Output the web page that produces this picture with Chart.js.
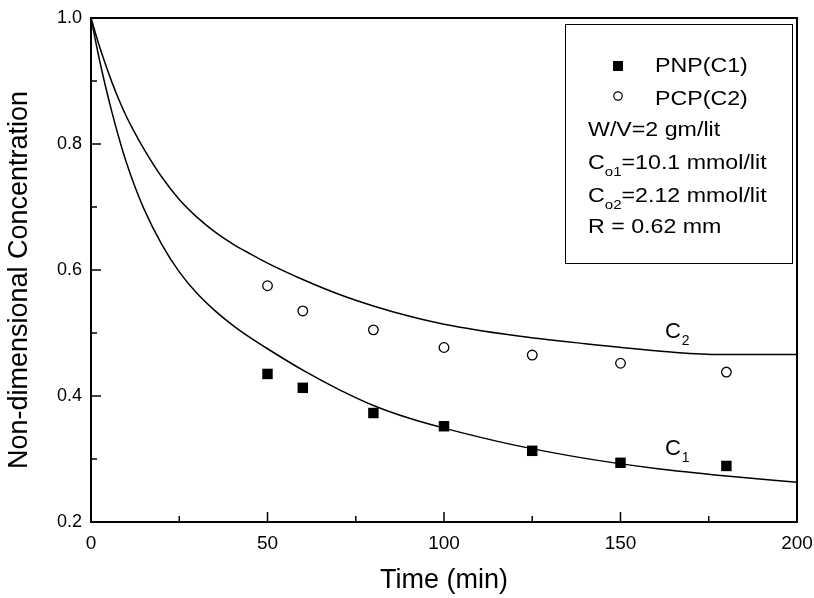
<!DOCTYPE html>
<html>
<head>
<meta charset="utf-8">
<script src="https://cdn.jsdelivr.net/npm/chart.js@4.4.0/dist/chart.umd.min.js"></script>
<style>
  html, body { margin: 0; padding: 0; background: #fff; }
</style>
</head>
<body>
<canvas id="chart" width="814" height="598"></canvas>
<script>
// measured points
const sampleTimes = [50, 60, 80, 100, 125, 150, 180];
const pnpValues = [0.435, 0.413, 0.373, 0.352, 0.313, 0.294, 0.289];
const pcpValues = [0.575, 0.535, 0.505, 0.477, 0.465, 0.452, 0.438];

// model curves
const c1Times = [0, 2, 4, 6, 8, 10, 12, 15, 20, 25, 30, 35, 40, 45, 50, 60, 70, 80, 90, 100, 120, 140, 160, 180, 200];
const c1Values = [1.0, 0.944, 0.894, 0.849, 0.808, 0.771, 0.739, 0.697, 0.641, 0.597, 0.563, 0.536, 0.513, 0.493, 0.475, 0.441, 0.411, 0.385, 0.365, 0.349, 0.322, 0.301, 0.285, 0.273, 0.263];
const c2Times = [0, 2, 4, 6, 8, 10, 12, 15, 20, 25, 30, 35, 40, 45, 50, 60, 70, 80, 90, 100, 120, 140, 160, 177, 200];
const c2Values = [1.0, 0.962, 0.928, 0.897, 0.869, 0.844, 0.822, 0.792, 0.748, 0.712, 0.684, 0.661, 0.642, 0.626, 0.611, 0.585, 0.562, 0.543, 0.527, 0.514, 0.496, 0.483, 0.472, 0.466, 0.466];

const xMinor = [25, 75, 125, 175];
const yMinor = [0.3, 0.5, 0.7, 0.9];

const yTitle = 'Non-dimensional Concentration';
const legendNotes = [
    [['W/V=2 gm/lit']],
    [['C'], ['o1', 'sub'], ['=10.1 mmol/lit']],
    [['C'], ['o2', 'sub'], ['=2.12 mmol/lit']],
    [['R = 0.62 mm']]
];

const FONT = "'Liberation Sans', Arial, sans-serif";

function pairs(xs, ys) {
    return xs.map((x, i) => ({ x: x, y: ys[i] }));
}

function drawStretched(ctx, text, x, y, sx) {
    ctx.save();
    ctx.translate(x, y);
    ctx.scale(sx, 1);
    ctx.fillText(text, 0, 0);
    ctx.restore();
    return ctx.measureText(text).width * sx;
}

const frame = {
    id: 'frame',
    afterDatasetsDraw(chart) {
        const { ctx, chartArea: a, scales: { x, y } } = chart;
        ctx.save();
        ctx.strokeStyle = '#000';
        ctx.fillStyle = '#000';

        // plot box
        ctx.lineWidth = 2;
        ctx.strokeRect(a.left, a.top, a.right - a.left, a.bottom - a.top);

        // inward ticks
        ctx.lineWidth = 1.5;
        ctx.beginPath();
        x.ticks.forEach(t => {
            const px = x.getPixelForValue(t.value);
            ctx.moveTo(px, a.bottom); ctx.lineTo(px, a.bottom - 10);
        });
        xMinor.forEach(v => {
            const px = x.getPixelForValue(v);
            ctx.moveTo(px, a.bottom); ctx.lineTo(px, a.bottom - 6);
        });
        y.ticks.forEach(t => {
            const py = y.getPixelForValue(t.value);
            ctx.moveTo(a.left, py); ctx.lineTo(a.left + 10, py);
        });
        yMinor.forEach(v => {
            const py = y.getPixelForValue(v);
            ctx.moveTo(a.left, py); ctx.lineTo(a.left + 6, py);
        });
        ctx.stroke();

        // y axis title
        ctx.save();
        ctx.translate(20, 280);
        ctx.rotate(-Math.PI / 2);
        ctx.textAlign = 'center';
        ctx.textBaseline = 'middle';
        ctx.font = '27px ' + FONT;
        ctx.fillText(yTitle, 0, 0);
        ctx.restore();

        // curve labels
        ctx.textBaseline = 'alphabetic';
        ctx.textAlign = 'left';
        [['1', 0.306], ['2', 0.492]].forEach(([s, v]) => {
            const px = x.getPixelForValue(162.6);
            const py = y.getPixelForValue(v);
            ctx.font = '22px ' + FONT;
            ctx.fillText('C', px, py);
            const w = ctx.measureText('C').width;
            ctx.font = '14px ' + FONT;
            ctx.fillText(s, px + w + 1, py + 7);
        });

        // legend box
        const bx = a.right - 232, by = a.top + 6;
        ctx.lineWidth = 1;
        ctx.strokeRect(bx + 0.5, by + 0.5, 227, 239);

        // series entries
        ctx.fillRect(bx + 48, by + 37, 10, 10);
        ctx.lineWidth = 1.2;
        ctx.beginPath();
        ctx.arc(bx + 53, by + 72, 4.2, 0, Math.PI * 2);
        ctx.stroke();

        const sx = 1.16;
        ctx.font = '20px ' + FONT;
        drawStretched(ctx, 'PNP(C1)', bx + 90, by + 48, sx);
        drawStretched(ctx, 'PCP(C2)', bx + 90, by + 81, sx);

        // notes
        const baselines = [112, 145, 178, 209];
        legendNotes.forEach((parts, i) => {
            let cx = bx + 23;
            const base = by + baselines[i];
            parts.forEach(([txt, kind]) => {
                if (kind === 'sub') {
                    ctx.font = '13px ' + FONT;
                    cx += drawStretched(ctx, txt, cx, base + 7, sx);
                } else {
                    ctx.font = '20px ' + FONT;
                    cx += drawStretched(ctx, txt, cx, base, sx);
                }
            });
        });
        ctx.restore();
    }
};

const ctx = document.getElementById('chart').getContext('2d');
const chart = new Chart(ctx, {
    type: 'scatter',
    data: {
        datasets: [{
            label: 'C1',
            data: pairs(c1Times, c1Values),
            showLine: true,
            borderColor: '#000',
            borderWidth: 1.5,
            pointRadius: 0,
            cubicInterpolationMode: 'monotone'
        }, {
            label: 'C2',
            data: pairs(c2Times, c2Values),
            showLine: true,
            borderColor: '#000',
            borderWidth: 1.5,
            pointRadius: 0,
            cubicInterpolationMode: 'monotone'
        }, {
            label: 'PNP(C1)',
            data: pairs(sampleTimes, pnpValues),
            pointStyle: 'rect',
            pointRadius: 7.4,
            backgroundColor: '#000',
            borderColor: '#000',
            borderWidth: 0
        }, {
            label: 'PCP(C2)',
            data: pairs(sampleTimes, pcpValues),
            pointStyle: 'circle',
            pointRadius: 4.8,
            backgroundColor: '#fff',
            borderColor: '#000',
            borderWidth: 1.3
        }]
    },
    options: {
        responsive: false,
        animation: false,
        devicePixelRatio: 1,
        layout: { padding: { top: 18, right: 17, left: 0, bottom: 0 } },
        plugins: {
            legend: { display: false },
            tooltip: { enabled: false }
        },
        scales: {
            x: {
                type: 'linear',
                min: 0,
                max: 200,
                ticks: { stepSize: 50, color: '#000', font: { family: FONT, size: 19 }, padding: 10 },
                grid: { display: false, drawTicks: false },
                border: { display: false },
                title: {
                    display: true,
                    text: 'Time (min)',
                    color: '#000',
                    font: { family: FONT, size: 27 },
                    padding: { top: 0, bottom: 1 }
                },
                afterFit(scale) {
                    scale.height = 76;
                    scale.paddingLeft = 0;
                    scale.paddingRight = 0;
                }
            },
            y: {
                type: 'linear',
                min: 0.2,
                max: 1.0,
                ticks: {
                    stepSize: 0.2,
                    color: '#000',
                    font: { family: FONT, size: 18 },
                    padding: 9,
                    callback: v => v.toFixed(1)
                },
                grid: { display: false, drawTicks: false },
                border: { display: false },
                afterFit(scale) {
                    scale.width = 91;
                    scale.paddingTop = 0;
                    scale.paddingBottom = 0;
                }
            }
        }
    },
    plugins: [frame]
});
</script>
</body>
</html>
